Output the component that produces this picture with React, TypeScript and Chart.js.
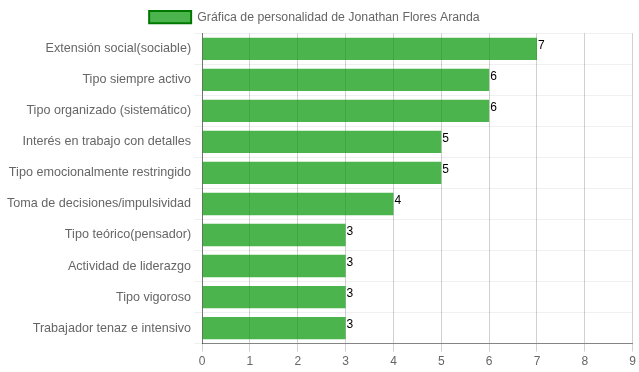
import React, { useEffect, useRef } from "react";
import { Chart, registerables } from "chart.js";

Chart.register(...registerables);

const categories: string[] = [
  "Extensión social(sociable)",
  "Tipo siempre activo",
  "Tipo organizado (sistemático)",
  "Interés en trabajo con detalles",
  "Tipo emocionalmente restringido",
  "Toma de decisiones/impulsividad",
  "Tipo teórico(pensador)",
  "Actividad de liderazgo",
  "Tipo vigoroso",
  "Trabajador tenaz e intensivo",
];

const seriesValues: number[] = [7, 6, 6, 5, 5, 4, 3, 3, 3, 3];

const seriesLabel = "Gráfica de personalidad de Jonathan Flores Aranda";

const xTicks: number[] = [0, 1, 2, 3, 4, 5, 6, 7, 8, 9];

const FONT = "Arial, 'Liberation Sans', sans-serif";

const valueLabels = {
  id: "valueLabels",
  afterDatasetsDraw(chart: any) {
    const ctx = chart.ctx;
    const meta = chart.getDatasetMeta(0);
    ctx.save();
    ctx.font = `12px ${FONT}`;
    ctx.fillStyle = "#000";
    ctx.textAlign = "left";
    ctx.textBaseline = "top";
    meta.data.forEach((bar: any, i: number) => {
      const v = chart.data.datasets[0].data[i];
      const top = bar.y - bar.height / 2;
      ctx.fillText(String(v), bar.x + 1, top + 2);
    });
    ctx.restore();
  },
};

export default function App() {
  const ref = useRef<HTMLCanvasElement | null>(null);

  useEffect(() => {
    if (!ref.current) return;
    const chart = new Chart(ref.current, {
      type: "bar",
      data: {
        labels: categories,
        datasets: [
          {
            label: seriesLabel,
            data: seriesValues,
            backgroundColor: "rgba(0,148,0,0.7)",
            borderColor: "rgba(0,120,0,1)",
            borderWidth: 0,
          },
        ],
      },
      options: {
        indexAxis: "y",
        animation: false,
        responsive: true,
        maintainAspectRatio: false,
        layout: { padding: { left: 4, right: 4, top: 1 } },
        plugins: {
          legend: {
            labels: {
              color: "#666",
              boxWidth: 42,
              font: { family: FONT, size: 12.3 },
              generateLabels: (chart: any) => [
                {
                  text: seriesLabel + "   ",
                  fillStyle: "rgba(0,148,0,0.7)",
                  strokeStyle: "rgba(0,120,0,1)",
                  lineWidth: 2,
                  hidden: false,
                  datasetIndex: 0,
                  fontColor: "#666",
                },
              ],
            },
          },
          tooltip: { enabled: false },
        },
        scales: {
          x: {
            type: "linear",
            min: 0,
            max: 9,
            afterBuildTicks: (axis: any) => {
              axis.ticks = xTicks.map((v) => ({ value: v }));
            },
            ticks: {
              color: "#666",
              font: { family: FONT, size: 12 },
            },
            grid: { color: "rgba(0,0,0,0.18)" },
            border: { color: "rgba(0,0,0,0.45)" },
          },
          y: {
            ticks: {
              color: "#666",
              font: { family: FONT, size: 12.6 },
            },
            grid: { color: "rgba(0,0,0,0.06)" },
            border: { color: "rgba(0,0,0,0.45)" },
          },
        },
      },
      plugins: [valueLabels],
    });
    return () => chart.destroy();
  }, []);

  return (
    <div style={{ position: "fixed", left: 0, top: 0, width: 639, height: 372 }}>
      <canvas ref={ref} />
    </div>
  );
}
